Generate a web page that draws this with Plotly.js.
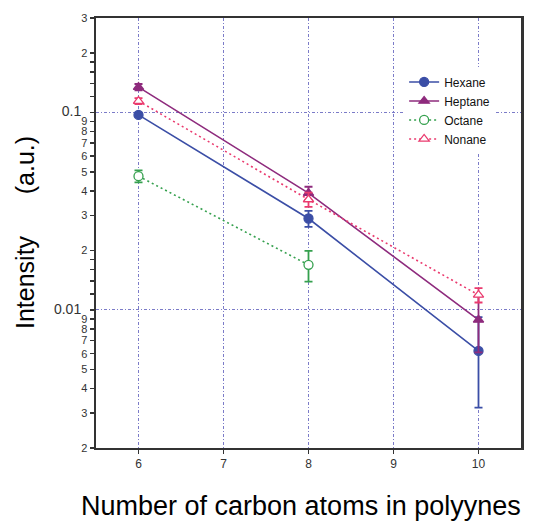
<!DOCTYPE html>
<html>
<head>
<meta charset="utf-8">
<script src="https://cdn.plot.ly/plotly-3.0.1.min.js"></script>
<style>html,body{margin:0;padding:0;background:#fff;}#chart{width:539px;height:521px;}</style>
</head>
<body>
<div id="chart"></div>
<script>
const carbonAtoms = [6, 8, 10];
const octaneAtoms = [6, 8];

const hexane = [0.097, 0.029, 0.0062];
const hexaneErr = [0.002, 0.0027, 0.003];
const heptane = [0.134, 0.039, 0.0089];
const heptaneErr = [0.005, 0.003, 0.0028];
const octane = [0.0475, 0.0169];
const octaneErr = [0.0033, 0.003];
const nonane = [0.114, 0.0362, 0.0119];
const nonaneErr = [0.004, 0.003, 0.001];

const bigPad = '<span style="font-size:11px">&nbsp;&nbsp;</span>';
const yTickVals = [0.3, 0.2, 0.18, 0.16, 0.14, 0.12, 0.1,
  0.09, 0.08, 0.07, 0.06, 0.05, 0.04, 0.03, 0.02, 0.018, 0.016, 0.014, 0.012, 0.01,
  0.009, 0.008, 0.007, 0.006, 0.005, 0.004, 0.003, 0.002];
const yTickText = ['3', '2', '', '', '', '', '<span style="font-size:14px">0.1</span>' + bigPad,
  '9', '8', '7', '6', '5', '4', '3', '2', '', '', '', '', '<span style="font-size:14px">0.01</span>' + bigPad,
  '9', '8', '7', '6', '5', '4', '3', '2'];
const yGridVals = [0.1, 0.01];
const xTickVals = [6, 7, 8, 9, 10];

const xTitle = 'Number of carbon atoms in polyynes';
const yTitle = 'Intensity&nbsp;&nbsp;&nbsp;&nbsp;&nbsp;&nbsp;(a.u.)';

function series(name, x, y, err, color, symbol, open, dash) {
  return {
    x: x, y: y, name: name, type: 'scatter', mode: 'lines+markers',
    line: {color: color, width: 1.6, dash: dash},
    marker: {color: open ? '#ffffff' : color, symbol: symbol, size: 9,
             line: {color: color, width: 1.3}},
    error_y: {type: 'data', array: err, symmetric: true, color: color, thickness: 1.8, width: 4}
  };
}

const data = [
  series('Hexane', carbonAtoms, hexane, hexaneErr, '#3b4ea6', 'circle', false, 'solid'),
  series('Heptane', carbonAtoms, heptane, heptaneErr, '#8e2b7d', 'triangle-up', false, 'solid'),
  series('Octane', octaneAtoms, octane, octaneErr, '#35a04e', 'circle', true, '2px,3px'),
  series('Nonane', carbonAtoms, nonane, nonaneErr, '#ea3a6e', 'triangle-up', true, '2px,3px')
];
data.push({x: [], y: [], yaxis: 'y2', showlegend: false, hoverinfo: 'skip', type: 'scatter'});

const gridColor = '#7b7bc8';
const gridDash = '3px,2px,1px,2px';

const layout = {
  width: 539, height: 521,
  margin: {l: 96, r: 18, t: 18, b: 73},
  paper_bgcolor: '#ffffff', plot_bgcolor: '#ffffff',
  showlegend: true,
  legend: {x: 0.725, y: 0.885, xanchor: 'left', yanchor: 'top', bgcolor: 'rgba(255,255,255,1)',
           font: {family: 'Liberation Sans, Arial, sans-serif', size: 12, color: '#111'},
           tracegroupgap: 0, itemwidth: 30},
  xaxis: {
    range: [5.5, 10.5], tickvals: xTickVals, ticktext: xTickVals.map(String),
    showline: true, linecolor: '#333', linewidth: 2, mirror: true,
    ticks: 'outside', ticklen: 4, tickcolor: '#333', tickwidth: 1.5,
    showgrid: true, gridcolor: gridColor, gridwidth: 1, griddash: gridDash,
    zeroline: false,
    tickfont: {family: 'Liberation Sans Narrow, Arial Narrow, Liberation Sans, sans-serif', size: 12, color: '#333'}
  },
  yaxis: {
    type: 'log', range: [Math.log10(0.002), Math.log10(0.3)],
    tickvals: yTickVals, ticktext: yTickText,
    showline: true, linecolor: '#333', linewidth: 2.5, mirror: true,
    ticks: 'outside', ticklen: 4, tickcolor: '#333', tickwidth: 1.5,
    showgrid: false, zeroline: false,
    tickfont: {family: 'Liberation Sans Narrow, Arial Narrow, Liberation Sans, sans-serif', size: 11, color: '#333'}
  },
  yaxis2: {
    type: 'log', range: [Math.log10(0.002), Math.log10(0.3)], overlaying: 'y',
    tickvals: yGridVals, showticklabels: false, ticks: '',
    showgrid: true, gridcolor: gridColor, gridwidth: 1, griddash: gridDash,
    showline: false, zeroline: false
  },
  annotations: [
    {text: xTitle, xref: 'paper', yref: 'paper', x: -0.04, y: -0.135, xanchor: 'left', yanchor: 'middle',
     showarrow: false, font: {family: 'Liberation Sans, Arial, sans-serif', size: 27, color: '#000'}},
    {text: yTitle, xref: 'paper', yref: 'paper', x: -0.167, y: 0.5, xanchor: 'center', yanchor: 'middle',
     textangle: -90, showarrow: false, font: {family: 'Liberation Sans, Arial, sans-serif', size: 25, color: '#000'}}
  ]
};

Plotly.newPlot('chart', data, layout, {displayModeBar: false, staticPlot: true});
</script>
</body>
</html>
